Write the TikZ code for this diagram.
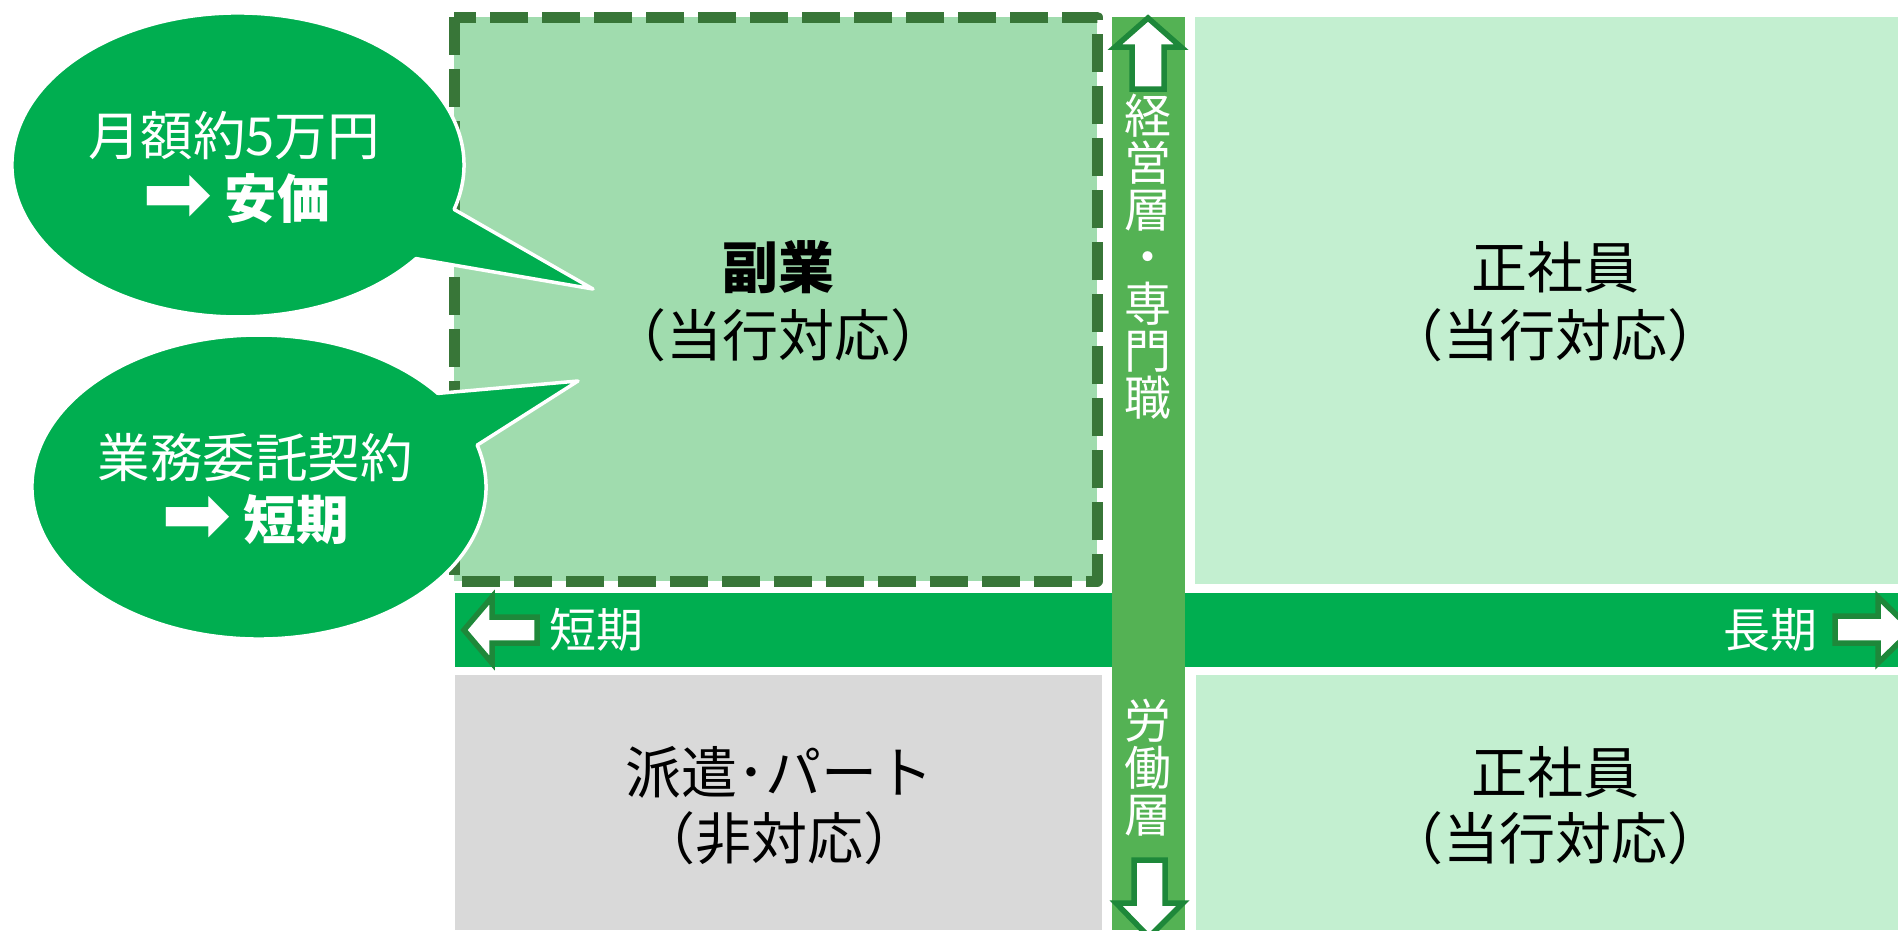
\documentclass[tikz,border=0pt]{standalone}
\usepackage{fontspec}
\setmainfont{Noto Sans CJK JP}
\newfontfamily\arrowfont{DejaVu Sans}
\definecolor{dashfill}{RGB}{160,220,174}
\definecolor{dashline}{RGB}{56,118,56}
\definecolor{lightbox}{RGB}{195,239,208}
\definecolor{greybox}{RGB}{217,217,217}
\definecolor{hbarcol}{RGB}{0,174,80}
\definecolor{vbarcol}{RGB}{84,178,84}
\definecolor{arrowline}{RGB}{30,136,58}
\definecolor{bubblecol}{RGB}{0,174,80}
\newcommand{\bigarr}{{\arrowfont\fontsize{84}{84}\selectfont\raisebox{-4pt}{➡}}}
\begin{document}
\begin{tikzpicture}[x=1pt,y=-1pt,
  dashbox/.style={fill=dashfill,draw=dashline,line width=11pt,dash pattern=on 38pt off 14pt,line join=round},
  lightcell/.style={fill=lightbox,draw=none},
  greycell/.style={fill=greybox,draw=none},
  hbar/.style={fill=hbarcol,draw=none},
  vbar/.style={fill=vbarcol,draw=none},
  bigarrow/.style={fill=white,draw=arrowline,line width=5.5pt,line join=miter},
  bubble/.style={fill=bubblecol,draw=white,line width=3.5pt,line join=round},
  maintxt/.style={font=\fontsize{56}{64}\selectfont,text=black,inner sep=0pt},
  bubtxt/.style={font=\fontsize{52.5}{62}\selectfont,text=white,inner sep=0pt},
  bartxt/.style={font=\fontsize{47}{47}\selectfont,text=white,inner sep=0pt,align=center},
]
\useasboundingbox (0,0) rectangle (1898,930);
\clip (0,0) rectangle (1898,930);
\fill[white] (0,0) rectangle (1898,930);

% cells
\draw[dashbox] (454,17) rectangle (1097,581);
\fill[lightcell] (1195,17) rectangle (1898,584);
\fill[greycell] (455,675) rectangle (1102,930);
\fill[lightcell] (1196,675) rectangle (1898,930);

% bars
\fill[hbar] (455,593) rectangle (1898,667);
\fill[vbar] (1112,17) rectangle (1185,930);

% arrows
\draw[bigarrow] (1148,18) -- (1181,47) -- (1164,47) -- (1164,89) -- (1132,89) -- (1132,47) -- (1115,47) -- cycle;
\draw[bigarrow] (1149,937) -- (1183,903) -- (1165,903) -- (1165,860) -- (1134,860) -- (1134,903) -- (1116,903) -- cycle;
\draw[bigarrow] (464,630) -- (492,597) -- (492,617) -- (537,617) -- (537,643) -- (492,643) -- (492,663) -- cycle;
\draw[bigarrow] (1912,630) -- (1878,597) -- (1878,616) -- (1835,616) -- (1835,643) -- (1878,643) -- (1878,663) -- cycle;

% bar labels
\node[bartxt] (short) at (596,630) {短期};
\node[bartxt] (long) at (1770,630) {長期};
\node[bartxt] (upper) at (1148,257) {経\\営\\層\\・\\専\\門\\職};
\node[bartxt] (lower) at (1148,768) {労\\働\\層};

% cell texts
\node[maintxt,font=\fontsize{56}{64}\selectfont\bfseries] (fukugyo) at (778,267) {副業};
\node[maintxt] (fukugyo2) at (778,335) {（当行対応）};
\node[maintxt] (seisha1) at (1555,267) {正社員};
\node[maintxt] (seisha1b) at (1555,335) {（当行対応）};
\node[maintxt] (haken) at (779,772) {派遣･パート};
\node[maintxt] (haken2) at (779,838) {（非対応）};
\node[maintxt] (seisha2) at (1555,772) {正社員};
\node[maintxt] (seisha2b) at (1555,838) {（当行対応）};

% speech bubbles
\draw[bubble] (416.1,258.6) -- (593,289) -- (454.1,209.4)
  arc[start angle=17,end angle=-322,x radius=226,y radius=152] -- cycle;
\draw[bubble] (437.9,393.4) -- (578,381) -- (477.2,445.1)
  arc[start angle=-16,end angle=322,x radius=227,y radius=152] -- cycle;

\node[bubtxt] (b1a) at (234,136) {月額約5万円};
\node[bubtxt] (b1b) at (236,199) {\bigarr\ {\bfseries 安価}};
\node[bubtxt] (b2a) at (255,458) {業務委託契約};
\node[bubtxt] (b2b) at (255,520) {\bigarr\ {\bfseries 短期}};
\end{tikzpicture}
\end{document}
